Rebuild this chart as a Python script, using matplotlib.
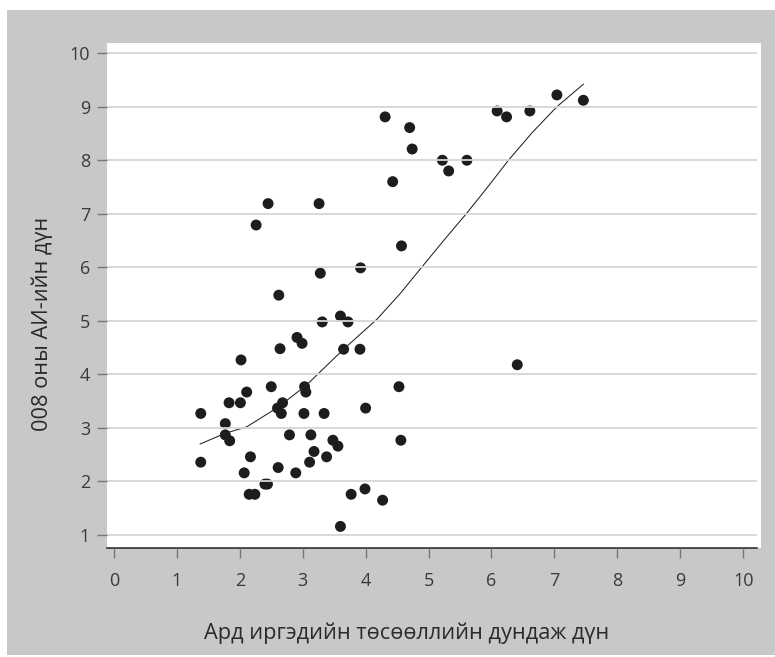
import matplotlib
matplotlib.use("Agg")
import matplotlib.pyplot as plt
from matplotlib.patches import Rectangle

plt.rcParams['font.family'] = ['Open Sans', 'DejaVu Sans']

# Scatter data
x_vals = [1.38, 1.38, 1.77, 1.77, 1.84, 1.83, 2.01, 2.02, 2.11, 2.17,
          2.07, 2.15, 2.24, 2.40, 2.44, 2.50, 2.64, 2.60, 2.68, 2.66,
          2.61, 2.91, 2.99, 2.79, 2.89, 3.03, 3.05, 3.02, 3.13, 3.11,
          3.18, 3.34, 3.38, 3.48, 3.56, 3.65, 3.91, 4.00, 3.60, 3.77,
          3.99, 4.27, 4.53, 4.56, 2.45, 3.26, 2.26, 3.28, 3.92, 2.62,
          3.31, 3.60, 3.72, 4.31, 4.43, 4.57, 4.70, 4.74, 5.22, 5.32,
          5.61, 6.09, 6.24, 6.61, 7.04, 7.46, 6.41]
y_vals = [3.27, 2.36, 3.08, 2.87, 2.76, 3.47, 3.47, 4.27, 3.67, 2.46,
          2.16, 1.76, 1.76, 1.95, 1.95, 3.77, 4.48, 3.37, 3.47, 3.27,
          2.26, 4.69, 4.58, 2.87, 2.16, 3.77, 3.67, 3.27, 2.87, 2.36,
          2.56, 3.27, 2.46, 2.77, 2.66, 4.47, 4.47, 3.37, 1.16, 1.76,
          1.86, 1.65, 3.77, 2.77, 7.19, 7.19, 6.79, 5.89, 5.99, 5.48,
          4.98, 5.09, 4.98, 8.81, 7.60, 6.40, 8.61, 8.21, 8.00, 7.80,
          8.00, 8.92, 8.81, 8.92, 9.22, 9.12, 4.18]

# Fitted curve
fit_x = [1.37, 1.77, 2.11, 2.60, 3.06, 3.65, 4.18, 4.55, 4.89, 5.24,
         5.60, 5.94, 6.27, 6.65, 7.04, 7.46]
fit_y = [2.70, 2.90, 3.02, 3.38, 3.80, 4.47, 5.03, 5.51, 6.00, 6.50,
         7.00, 7.50, 8.00, 8.52, 9.00, 9.42]

x_ticks = [0, 1, 2, 3, 4, 5, 6, 7, 8, 9, 10]
y_ticks = [1, 2, 3, 4, 5, 6, 7, 8, 9, 10]
x_label = "Ард иргэдийн төсөөллийн дундаж дүн"
y_label = "008 оны АИ-ийн дүн"

W, H = 775, 657
fig = plt.figure(figsize=(W / 100, H / 100), dpi=100)
fig.patch.set_facecolor("white")

# gray panel
fig.patches.append(Rectangle((7 / W, (H - 655) / H), (775 - 7) / W, (655 - 10) / H,
                             transform=fig.transFigure, facecolor="#c7c8ca",
                             edgecolor="none", zorder=-2))
# white plot panel
fig.patches.append(Rectangle((107 / W, (H - 548) / H), (761 - 107) / W, (548 - 43) / H,
                             transform=fig.transFigure, facecolor="white",
                             edgecolor="none", zorder=-1))

ax = fig.add_axes([107 / W, (H - 548) / H, (757 - 107) / W, (548 - 43) / H])
ax.set_zorder(1)
ax.set_facecolor("white")

ax.scatter(x_vals, y_vals, s=62, color="#1e1c1d", edgecolors="none", zorder=1)
ax.plot(fit_x, fit_y, color="#222222", lw=0.75, zorder=1.5)

ax.set_xlim(-0.11, 10.22)
ax.set_ylim(0.757, 10.19)
ax.set_xticks(x_ticks)
ax.set_yticks(y_ticks)

ax.set_axisbelow(False)
ax.yaxis.grid(True, color="#d6d6d6", lw=1.3, zorder=2.5)
ax.xaxis.grid(False)

for s in ["top", "right", "left"]:
    ax.spines[s].set_visible(False)
ax.spines["bottom"].set_color("#222222")
ax.spines["bottom"].set_linewidth(1.1)

ax.tick_params(axis="x", length=7.2, width=1.0, color="#777777", pad=10,
               labelsize=13, labelcolor="#3a3a3a")
ax.tick_params(axis="y", length=7.2, width=1.0, color="#777777", pad=5,
               labelsize=13, labelcolor="#3a3a3a")

fig.text(407 / W, 1 - 633 / H, x_label, ha="center", va="center",
         fontsize=15.7, color="#2a2a2a")
fig.text(42 / W, 1 - 324 / H, y_label, ha="center", va="center",
         rotation=90, fontsize=15.7, color="#2a2a2a")

fig.savefig("out.png", dpi=100, facecolor="white")
